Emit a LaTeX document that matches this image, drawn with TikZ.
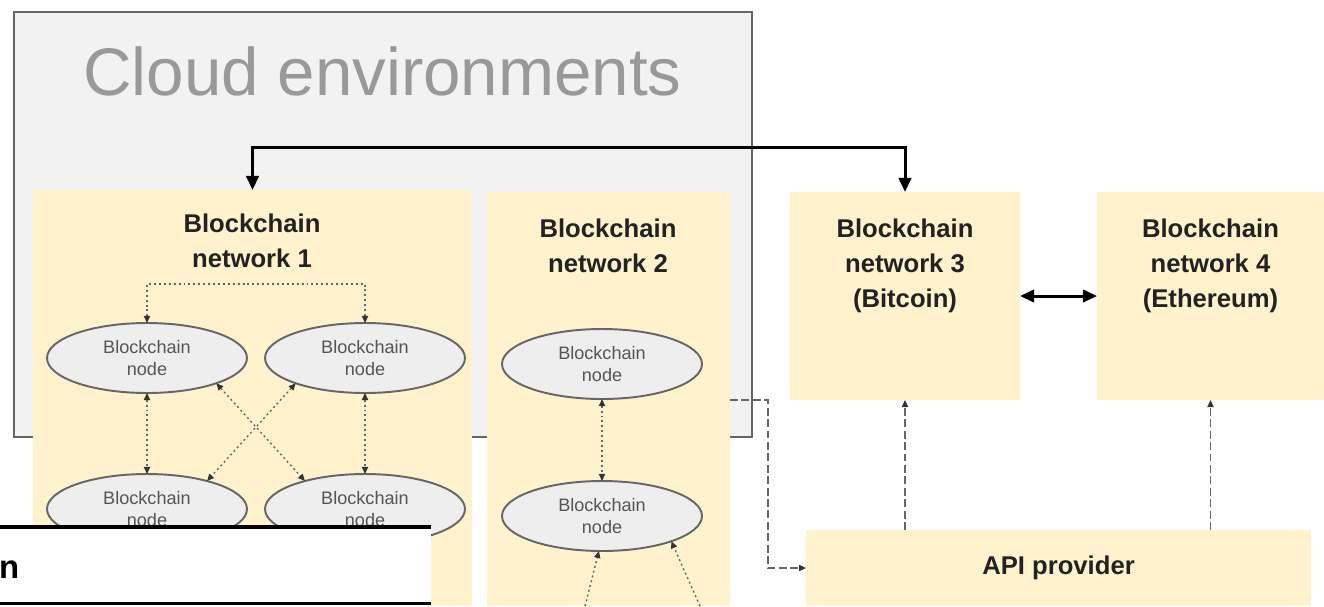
\documentclass[tikz,border=0pt]{standalone}
\usepackage{fontspec}
\setmainfont{Liberation Sans}
\usetikzlibrary{shapes.geometric,arrows.meta}
\definecolor{cloudgray}{HTML}{F2F2F2}
\definecolor{edgegray}{HTML}{666666}
\definecolor{netyellow}{HTML}{FFF2CC}
\definecolor{nodegray}{HTML}{EEEEEE}
\definecolor{titlegray}{HTML}{999999}
\definecolor{textdark}{HTML}{222222}
\definecolor{textgray}{HTML}{555555}

\begin{document}
\begin{tikzpicture}[x=0.02cm, y=-0.02cm,
    every node/.style={inner sep=0pt, outer sep=0pt, align=center},
    netbox/.style={rectangle, fill=netyellow},
    nettitle/.style={font=\fontsize{14.6}{19.8}\selectfont\bfseries, text=textdark},
    bcnode/.style={ellipse, draw=edgegray, line width=1.1pt, fill=nodegray,
        minimum width=4cm, minimum height=1.4cm,
        font=\fontsize{10.3}{12.5}\selectfont, text=textgray},
    dotlink/.style={edgegray, line width=0.8pt, dash pattern=on 1.1pt off 1.7pt},
    dottip/.style={{Triangle[length=4pt,width=3.5pt,color=black!80]}-{Triangle[length=4pt,width=3.5pt,color=black!80]}},
    dashlink/.style={edgegray, line width=0.8pt, dash pattern=on 4.5pt off 2pt,
        -{Triangle[length=4pt,width=3.5pt,color=black!80]}},
    thicklink/.style={black, line width=1.7pt,
        {Triangle[length=8pt,width=7pt]}-{Triangle[length=8pt,width=7pt]}}]
    \useasboundingbox (0,0) rectangle (1324,606);

    % Облачная среда
    \node[rectangle, draw=edgegray, line width=1.1pt, fill=cloudgray,
        minimum width=14.76cm, minimum height=8.5cm] (cloud) at (383,224.5) {};
    \node[font=\fontsize{38.3}{40}\selectfont, text=titlegray, anchor=base]
        (cloudtitle) at (382.5,95) {Cloud environments};

    % Сети блокчейна
    \node[netbox, minimum width=8.78cm, minimum height=8.32cm] (net1) at (252.5,398) {};
    \node[netbox, minimum width=4.86cm, minimum height=8.28cm] (net2) at (608.5,399) {};
    \node[netbox, minimum width=4.6cm, minimum height=4.16cm] (net3) at (905,296) {};
    \node[netbox, minimum width=4.54cm, minimum height=4.16cm] (net4) at (1210.5,296) {};
    \node[netbox, minimum width=10.1cm, minimum height=1.52cm,
        font=\fontsize{14.6}{19.8}\selectfont\bfseries, text=textdark] (api) at (1058.5,568) {API provider};

    \node[nettitle] (title1) at (252,241) {Blockchain\\network 1};
    \node[nettitle] (title2) at (608,246) {Blockchain\\network 2};
    \node[nettitle] (title3) at (905,266) {Blockchain\\network 3\\(Bitcoin)};
    \node[nettitle] (title4) at (1210.5,266) {Blockchain\\network 4\\(Ethereum)};

    % Узлы сети 1
    \node[bcnode] (n1a) at (147,358) {Blockchain\\node};
    \node[bcnode] (n1b) at (365,358) {Blockchain\\node};
    \node[bcnode] (n1c) at (147,509) {Blockchain\\node};
    \node[bcnode] (n1d) at (365,509) {Blockchain\\node};

    % Узлы сети 2
    \node[bcnode] (n2a) at (602,364) {Blockchain\\node};
    \node[bcnode] (n2b) at (602,516) {Blockchain\\node};

    % Связи внутри сетей
    \coordinate (loop1) at (256,284);
    \draw[dotlink, dottip] (n1a.north) |- (loop1) -| (n1b.north);
    \draw[dotlink, dottip] (n1a.south) -- (n1c.north);
    \draw[dotlink, dottip] (n1b.south) -- (n1d.north);
    \draw[dotlink, dottip] (n1a.-20) -- (n1d.155);
    \draw[dotlink, dottip] (n1b.-160) -- (n1c.25);
    \draw[dotlink, dottip] (n2a.south) -- (n2b.north);
    \coordinate (in2l) at (585,606);
    \coordinate (in2r) at (700,606);
    \draw[dotlink, -{Triangle[length=4pt,width=3.5pt,color=black!80]}] (in2l) -- (n2b.-95);
    \draw[dotlink, -{Triangle[length=4pt,width=3.5pt,color=black!80]}] (in2r) -- (n2b.-20);

    % Связи между сетями
    \coordinate (bridge) at (580,147);
    \draw[thicklink] (net1.north) |- (bridge) -| (net3.north);
    \draw[thicklink] (net3.east) -- (net4.west);
    \draw[dashlink] (net2.east |- net3.south) -- ++(38,0) |- (api.west);
    \draw[dashlink] (api.north -| net3.south) -- (net3.south);
    \draw[dashlink] (api.north -| net4.south) -- (net4.south);

    % Белая плашка снизу
    \fill[white] (0,527) rectangle (431,606);
    \draw[black, line width=2.2pt] (0,527) -- (431,527);
    \draw[black, line width=1.7pt] (0,603) -- (431,603);
    \node[font=\fontsize{18.7}{20}\selectfont\bfseries, anchor=base west] (banner) at (-1,578) {n};
\end{tikzpicture}
\end{document}
